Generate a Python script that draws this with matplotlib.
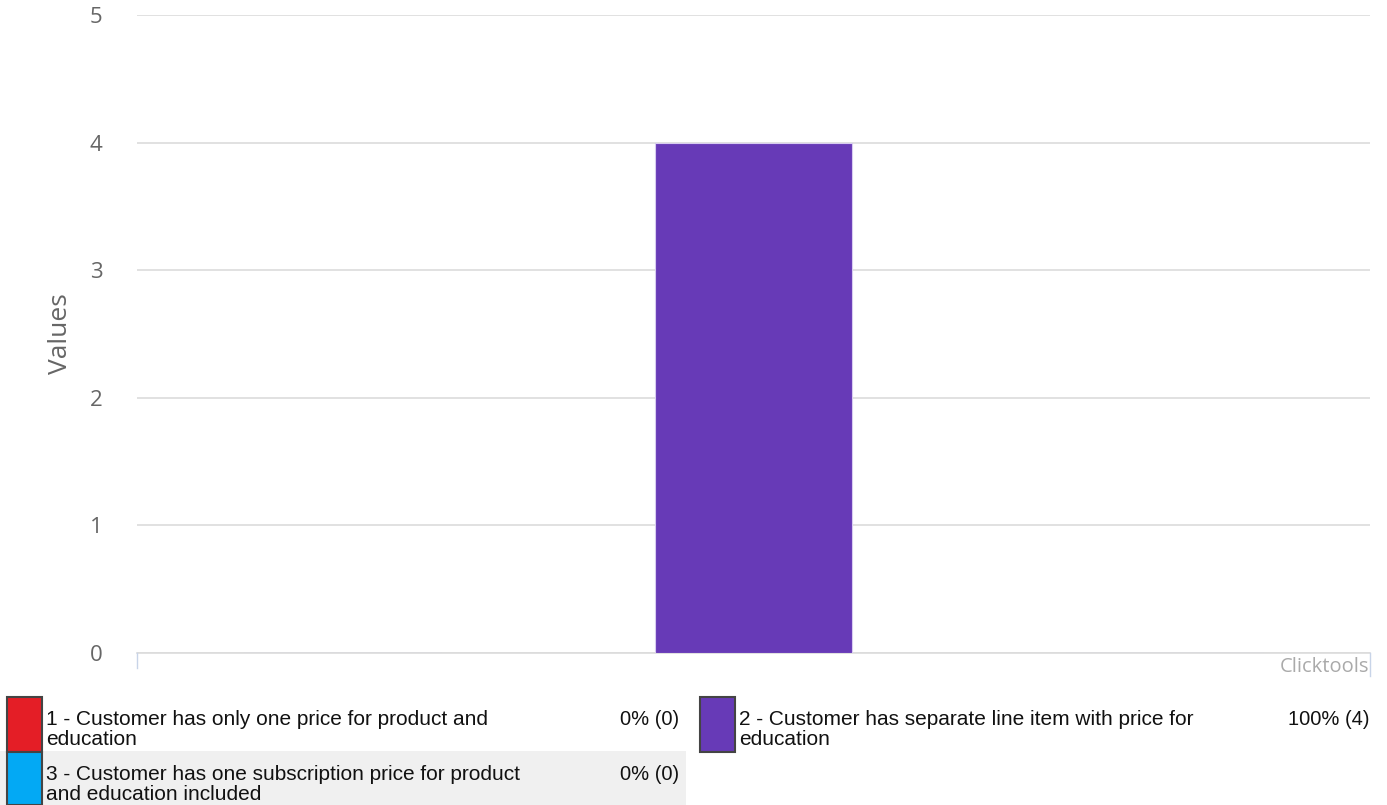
"""Bar chart of customer pricing answers with a boxed legend underneath."""
import matplotlib.pyplot as plt
from matplotlib.patches import Rectangle

# Answer categories, counts and legend labels
CATEGORIES = ["1", "2", "3"]
COUNTS = [0, 4, 0]
LABELS = [
    "1 - Customer has only one price for product and\neducation",
    "2 - Customer has separate line item with price for\neducation",
    "3 - Customer has one subscription price for product\nand education included",
]
SHARES = ["0% (0)", "100% (4)", "0% (0)"]
COLORS = ["#e41e26", "#673ab7", "#03a9f4"]
Y_TICKS = [0, 1, 2, 3, 4, 5]

W, H = 1387, 805


def fx(px):
    """Pixel x to figure fraction."""
    return px / W


def fy(py):
    """Pixel y (from top) to figure fraction."""
    return 1 - py / H


fig = plt.figure(figsize=(W / 100, H / 100), dpi=100)
ax = fig.add_axes([fx(137), fy(653), fx(1370) - fx(137), fy(15) - fy(653)])

ax.bar(range(len(CATEGORIES)), COUNTS, width=0.48, color=COLORS,
       edgecolor="#d8ccf0", linewidth=0.8, zorder=3)
ax.set_xlim(-0.5, len(CATEGORIES) - 0.5)
ax.set_ylim(0, 5)
ax.set_yticks(Y_TICKS)
ax.set_yticklabels([str(t) for t in Y_TICKS], fontsize=16, color="#666666",
                   family="Open Sans")
ax.tick_params(axis="y", length=0, pad=25)
ax.set_xticks([])
ax.grid(axis="y", color="#dcdcdc", linewidth=1.2, zorder=0)
for side in ["top", "right", "left"]:
    ax.spines[side].set_visible(False)
ax.spines["bottom"].set_color("#dcdcdc")
ax.spines["bottom"].set_linewidth(1.2)
ax.set_ylabel("Values", fontsize=19, color="#666666", family="Open Sans",
              labelpad=12)

# small end ticks under the baseline
fig.add_artist(plt.Line2D([fx(137), fx(137)], [fy(653), fy(668)],
                          color="#c8d4e8", linewidth=1))
fig.add_artist(plt.Line2D([fx(1370), fx(1370)], [fy(653), fy(676)],
                          color="#c8d4e8", linewidth=1))
fig.text(fx(1369), fy(667), "Clicktools", fontsize=14.5, color="#aaaaaa",
         family="Open Sans", ha="right", va="center")

# legend table
fig.add_artist(Rectangle((0, 0), fx(686), fy(751),
                         transform=fig.transFigure, facecolor="#f0f0f0",
                         edgecolor="none", zorder=0))
slots = [(7, 697, 55, 620), (700, 697, 55, 1370), (7, 752, 53, 620)]
for (x0, y0, h, vx), label, share, color in zip(slots, LABELS, SHARES, COLORS):
    fig.add_artist(Rectangle((fx(x0), fy(y0 + h)), fx(35), fy(y0) - fy(y0 + h),
                             transform=fig.transFigure, facecolor=color,
                             edgecolor="#444444", linewidth=1.5))
    for i, line in enumerate(label.split("\n")):
        fig.text(fx(x0 + 39), fy(y0 + 28 + 20 * i), line, fontsize=15,
                 family="Liberation Sans", color="#111111", va="baseline")
    ha = "left" if vx < 1000 else "right"
    fig.text(fx(vx), fy(y0 + 28), share, fontsize=14.5,
             family="Liberation Sans", color="#111111", va="baseline", ha=ha)

fig.savefig("out.png", dpi=100)
